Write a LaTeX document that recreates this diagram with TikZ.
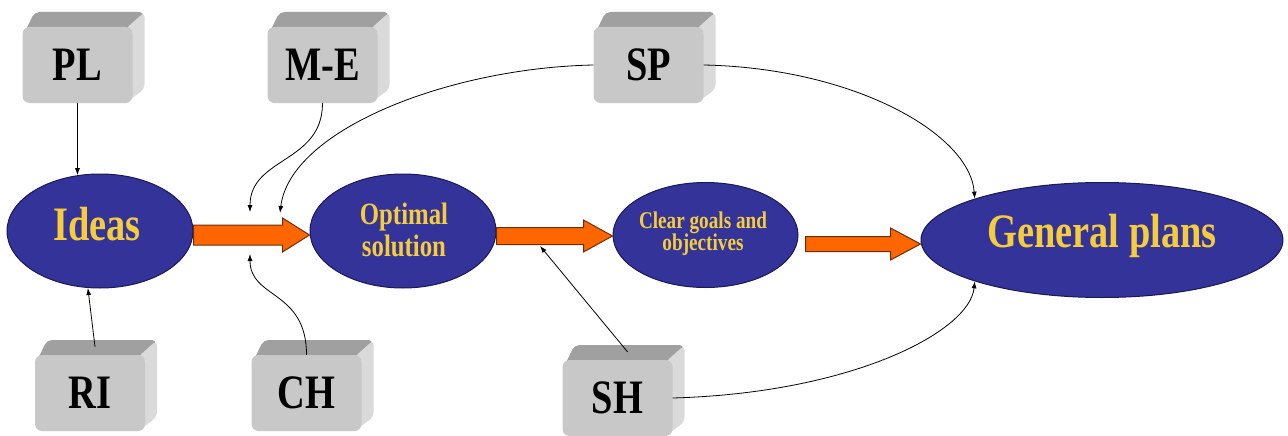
\documentclass[tikz,border=0pt]{standalone}
\usepackage{fontspec}
\setmainfont{Liberation Serif}[FakeStretch=0.8]
\usetikzlibrary{shapes.geometric,arrows.meta,calc}
\definecolor{ellfill}{RGB}{51,51,153}
\definecolor{elldraw}{RGB}{25,25,85}
\definecolor{etxtcol}{RGB}{245,205,60}
\definecolor{orfill}{RGB}{255,102,0}
\definecolor{ordraw}{RGB}{110,45,10}
\definecolor{cubefrontcol}{RGB}{200,200,200}
\definecolor{cubetopcol}{RGB}{160,160,160}
\definecolor{cubesidecol}{RGB}{218,218,218}
\tikzset{
 ell/.style={ellipse, fill=ellfill, draw=elldraw, line width=1pt, inner sep=0pt},
 etxt/.style={text=etxtcol, align=center, inner sep=0pt},
 cubefront/.style={rectangle, rounded corners=7pt, fill=cubefrontcol, minimum width=110pt, minimum height=76pt, inner sep=0pt, font=\fontsize{48}{50}\selectfont\bfseries},
 cubetop/.style={fill=cubetopcol, rounded corners=5pt},
 cubeside/.style={fill=cubesidecol, rounded corners=5pt},
 conn/.style={line width=0.8pt, -{Latex[length=7pt,width=5pt]}},
 blk/.style={fill=orfill, draw=ordraw, line width=1pt, line join=miter},
}
\newcommand\cubebox[3]{%
  \coordinate (#1c) at #2;
  \path[cubetop] ($(#1c)+(-54,-30)$) -- ($(#1c)+(-43,-53)$) -- ($(#1c)+(67,-53)$) -- ($(#1c)+(56,-30)$) -- cycle;
  \path[cubeside] ($(#1c)+(48,-36)$) -- ($(#1c)+(67,-53)$) -- ($(#1c)+(67,24)$) -- ($(#1c)+(48,38)$) -- cycle;
  \node[cubefront] (#1) at (#1c) {#3};
}
\newcommand\blockarrow[5]{%
  \path[blk] let \p1=#1, \p2=#2 in
   (\x1,\y1+#3pt) -- (\x2-#5pt,\y1+#3pt) -- (\x2-#5pt,\y1+#4pt) -- (\x2,\y2)
   -- (\x2-#5pt,\y1-#4pt) -- (\x2-#5pt,\y1-#3pt) -- (\x1,\y1-#3pt) -- cycle;
}
\begin{document}
\begin{tikzpicture}[x=1pt,y=-1pt]
\useasboundingbox (0,0) rectangle (1288,436);
% ellipses
\node[ell, minimum width=186pt, minimum height=114pt] (Ideas) at (100,231) {};
\node[ell, minimum width=186pt, minimum height=114pt] (Optimal) at (403,231) {};
\node[ell, minimum width=185pt, minimum height=105pt] (Clear) at (705.5,235) {};
\node[ell, minimum width=362pt, minimum height=115pt] (General) at (1102,240) {};
% block arrows
\coordinate (a1s) at ($(Ideas.east)+(0,4)$);
\coordinate (a1e) at ($(Optimal.west)+(0,4)$);
\coordinate (a2s) at ($(Optimal.east)+(0,5)$);
\coordinate (a2e) at ($(Clear.west)+(0,1)$);
\coordinate (a3s) at ($(Clear.east)+(7,9)$);
\coordinate (a3e) at ($(General.west)+(0,4)$);
\blockarrow{(a1s)}{(a1e)}{10}{17}{27}
\blockarrow{(a2s)}{(a2e)}{8.5}{16}{29}
\blockarrow{(a3s)}{(a3e)}{7.5}{16}{30}
% ellipse texts
\node[etxt, font=\fontsize{48}{50}\selectfont\bfseries] (tIdeas) at (97,224) {Ideas};
\node[etxt, font=\fontsize{31}{32}\selectfont\bfseries] (tOpt) at (404,230) {Optimal\\solution};
\node[etxt, font=\fontsize{24}{22}\selectfont\bfseries] (tClear) at (703,234) {Clear goals and\\objectives};
\node[etxt, font=\fontsize{48}{50}\selectfont\bfseries] (tGen) at (1102,236) {General plans};
% cubes
\cubebox{PL}{(77.5,65)}{PL}
\cubebox{ME}{(322.5,65)}{M-E}
\cubebox{SP}{(648.5,65)}{SP}
\cubebox{RI}{(90,393)}{RI}
\cubebox{CH}{(306.5,393)}{CH}
\cubebox{SH}{(617.5,398)}{SH}
% free ends
\coordinate (jtop) at (250,212);
\coordinate (jbot) at (250,254);
\coordinate (jsp) at (280,213);
\coordinate (jsh) at (540,246);
% connectors
\draw[conn] (PL.south) -- (Ideas.112);
\draw[conn] ($(RI.north)+(5,-8)$) -- (Ideas.258);
\draw[conn] (ME.south) .. controls +(0,60) and +(0,-55) .. (jtop);
\draw[conn] (SP.west) .. controls +(-145,3) and +(10,-83) .. (jsp);
\draw[conn] (SP.east) .. controls +(150,3) and +(-5,-65) .. (General.162);
\draw[conn] (CH.north) .. controls +(0,-65) and +(0,45) .. (jbot);
\draw[conn] ($(SH.north)+(10,-8)$) -- (jsh);
\draw[conn] (SH.east) .. controls +(180,-5) and +(-5,50) .. (General.198);
\end{tikzpicture}
\end{document}
